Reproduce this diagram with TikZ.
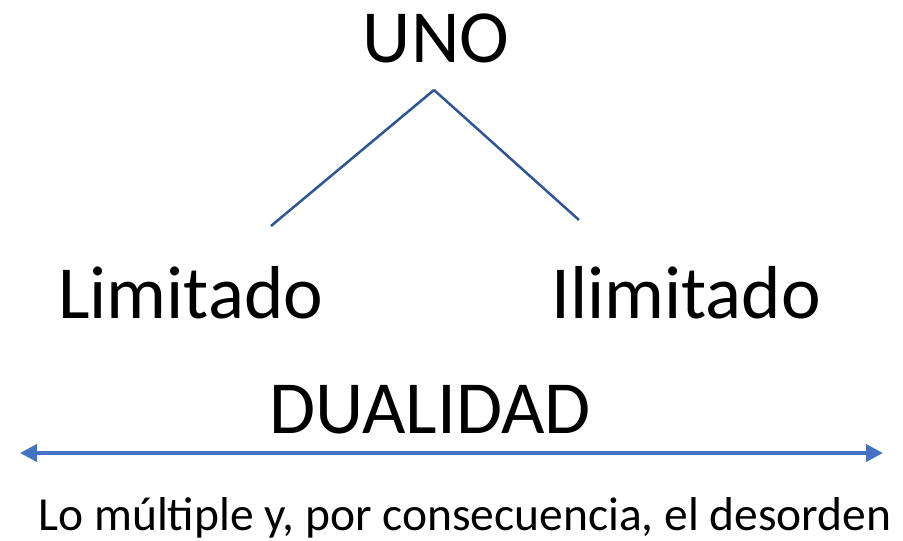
\documentclass[tikz,border=0pt]{standalone}
\usepackage{fontspec}
\setmainfont{Carlito}
\usepackage{xcolor}
\usepackage{tikz}
\usetikzlibrary{arrows.meta}
\definecolor{lineblue}{HTML}{2F5597}
\definecolor{arrowblue}{HTML}{4472C4}

\begin{document}
\begin{tikzpicture}[x=1pt,y=-1pt]
\tikzstyle{word}=[inner sep=0pt, font=\fontsize{75}{80}\selectfont]
\tikzstyle{small}=[inner sep=0pt, font=\fontsize{47.5}{50}\selectfont]
\useasboundingbox (0,0) rectangle (903,541);
\node[word, anchor=base] (uno) at (436,62) {UNO};
\node[word, anchor=base west] (lim) at (58,318) {Limitado};
\node[word, anchor=base west] (ilim) at (551,318) {Ilimitado};
\node[word, anchor=base] (dual) at (430,433) {DUALIDAD};
\node[small, anchor=base] (orden) at (465,530) {Lo múltiple y, por consecuencia, el desorden};

\coordinate (top) at (434,90);
\coordinate (left) at (271,226);
\coordinate (right) at (579,220);
\coordinate (a) at (20,453);
\coordinate (b) at (883,453);

\path[draw=lineblue, line width=2.5pt]
(top) edge (left)
      edge (right);
\draw[arrowblue, line width=4pt, {Triangle[length=17pt,width=17pt]}-{Triangle[length=17pt,width=17pt]}] (a) -- (b);
\end{tikzpicture}
\end{document}
